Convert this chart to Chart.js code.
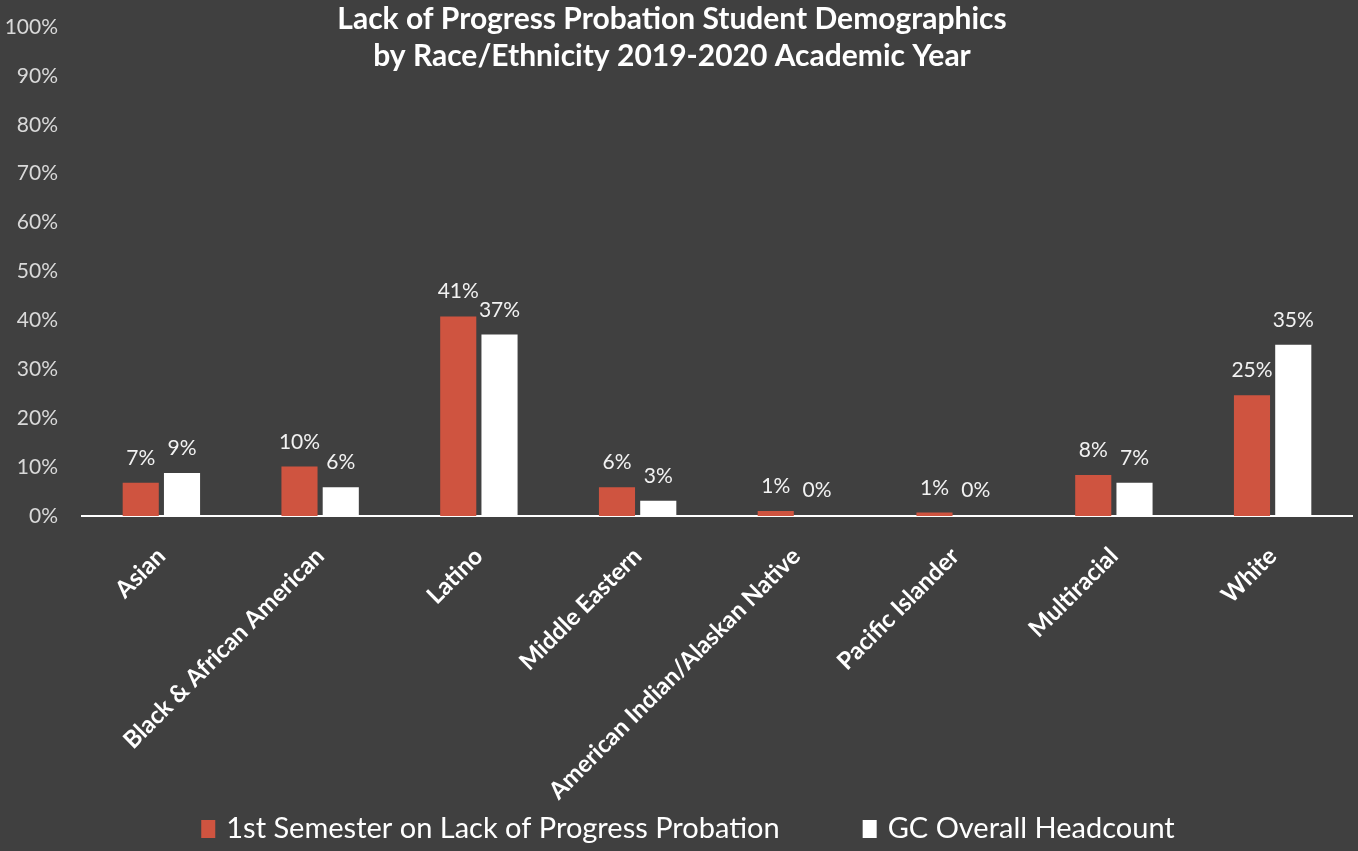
<!DOCTYPE html>
<html>
<head>
<meta charset="utf-8">
<script src="https://cdn.jsdelivr.net/npm/chart.js@4.4.0/dist/chart.umd.min.js"></script>
<style>
  html, body { margin: 0; padding: 0; background: #404040; }
  #wrap { width: 1358px; height: 851px; position: relative; }
</style>
</head>
<body>
<div id="wrap"><canvas id="c" width="1358" height="851"></canvas></div>
<script>
const categories = ["Asian", "Black & African American", "Latino", "Middle Eastern", "American Indian/Alaskan Native", "Pacific Islander", "Multiracial", "White"];
const probationValues = [6.8, 10.1, 40.8, 5.9, 1.0, 0.7, 8.4, 24.7];
const headcountValues = [8.8, 5.9, 37.1, 3.1, 0.2, 0.2, 6.8, 35.0];
const seriesNames = ["1st Semester on Lack of Progress Probation", "GC Overall Headcount"];
const titleLines = ["Lack of Progress Probation Student Demographics", "by Race/Ethnicity 2019-2020 Academic Year"];

const FONT = "Lato, 'Open Sans', sans-serif";

const titlePlugin = {
  id: 'customTitle',
  afterDraw(chart) {
    const ctx = chart.ctx;
    ctx.save();
    ctx.fillStyle = '#ffffff';
    ctx.font = "bold 30px " + FONT;
    ctx.textAlign = 'center';
    ctx.textBaseline = 'middle';
    ctx.fillText(titleLines[0], 672, 19);
    ctx.fillText(titleLines[1], 672, 56);
    ctx.restore();
  }
};

const legendPlugin = {
  id: 'customLegend',
  afterDraw(chart) {
    const ctx = chart.ctx;
    ctx.save();
    ctx.font = "29px " + FONT;
    ctx.textBaseline = 'middle';
    ctx.textAlign = 'left';
    const ds = chart.data.datasets;
    const box = 14, gapText = 11, gapItems = 83;
    const widths = ds.map(d => box + gapText + ctx.measureText(d.label).width);
    const total = widths.reduce((a, b) => a + b, 0) + gapItems * (ds.length - 1);
    let x = 688 - total / 2;
    const cy = 829;
    ds.forEach((d, i) => {
      ctx.fillStyle = d.backgroundColor;
      ctx.fillRect(x, cy - 9, box, 18);
      ctx.fillStyle = '#ffffff';
      ctx.fillText(d.label, x + box + gapText, cy);
      x += widths[i] + gapItems;
    });
    ctx.restore();
  }
};

const labelPlugin = {
  id: 'valueLabels',
  afterDatasetsDraw(chart) {
    const ctx = chart.ctx;
    ctx.save();
    ctx.fillStyle = '#f2f2f2';
    ctx.font = "21px " + FONT;
    ctx.textAlign = 'center';
    ctx.textBaseline = 'alphabetic';
    chart.data.datasets.forEach((ds, di) => {
      const meta = chart.getDatasetMeta(di);
      meta.data.forEach((el, i) => {
        const v = ds.data[i];
        ctx.fillText(Math.round(v) + '%', el.x, el.y - 18);
      });
    });
    ctx.restore();
  }
};

new Chart(document.getElementById('c'), {
  type: 'bar',
  data: {
    labels: categories,
    datasets: [
      { label: seriesNames[0], data: probationValues, backgroundColor: '#CF5440', categoryPercentage: 0.52, barPercentage: 0.875 },
      { label: seriesNames[1], data: headcountValues, backgroundColor: '#FFFFFF', categoryPercentage: 0.52, barPercentage: 0.875 }
    ]
  },
  options: {
    responsive: false,
    animation: false,
    devicePixelRatio: 1,
    layout: { padding: { top: 27, left: 0, right: 6, bottom: 0 } },
    plugins: {
      legend: { display: false },
      tooltip: { enabled: false },
      title: { display: false }
    },
    scales: {
      y: {
        min: 0, max: 100,
        grid: { display: false, drawTicks: false },
        border: { display: false },
        afterFit(scale) { scale.width = 82; scale.paddingTop = 0; scale.paddingBottom = 0; },
        ticks: {
          stepSize: 10,
          color: '#d9d9d9',
          font: { family: FONT, size: 21 },
          padding: 24,
          callback: v => v + '%'
        }
      },
      x: {
        grid: { display: false, drawTicks: false },
        border: { display: true, color: '#ffffff', width: 2 },
        afterFit(scale) { scale.height = 335; scale.paddingTop = 0; scale.paddingBottom = 0; scale.paddingLeft = 0; scale.paddingRight = 0; },
        ticks: {
          color: '#ffffff',
          font: { family: FONT, size: 24, weight: 'bold' },
          minRotation: 45, maxRotation: 45,
          padding: 26,
          autoSkip: false
        }
      }
    }
  },
  plugins: [titlePlugin, labelPlugin, legendPlugin]
});
</script>
</body>
</html>
